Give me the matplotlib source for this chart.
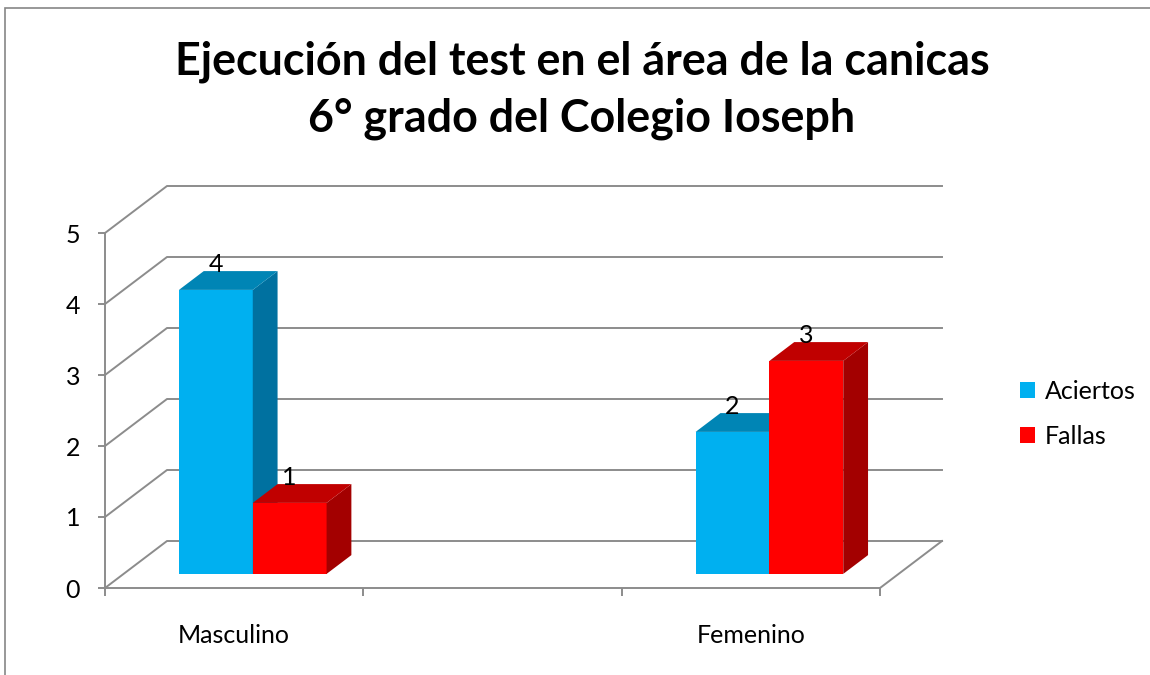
import numpy as np
import matplotlib
matplotlib.use("Agg")
import matplotlib.pyplot as plt
from matplotlib.patches import Polygon, Rectangle, Patch

plt.rcParams['font.family'] = ['Lato', 'DejaVu Sans']

# data
categories = ["Masculino", "", "Femenino"]
series = ["Aciertos", "Fallas"]
aciertos = [4, np.nan, 2]
fallas = [1, np.nan, 3]

title = "Ejecución del test en el área de la canicas\n6° grado del Colegio Ioseph"

# colours: front, top, side
colors = {
    "Aciertos": ("#00B0F0", "#0085B5", "#0071A0"),
    "Fallas": ("#FF0000", "#C00000", "#A30000"),
}
grid_col = "#8C8C8C"

# oblique depth of the plot box (in data units)
DX, DY = 0.24, 0.662
gap = 1.5                      # gap width, as fraction of a bar
w = 1.0 / (len(series) + gap)  # bar width
d0, d1 = 0.3, 0.7              # bar depth range within the box

fig = plt.figure(figsize=(11.5, 6.75), dpi=100)
ax = fig.add_axes([105 / 1150, 87 / 675, 775 / 1150, 355 / 675])
ax.set_xlim(0, len(categories))
ax.set_ylim(0, 5)

# outer chart frame
fig.patches.append(Rectangle((5 / 1150, -0.1), 1.2, 1 - 8 / 675 + 0.1,
                             transform=fig.transFigure, fill=False,
                             edgecolor="#868686", lw=1.2))

# walls and gridlines
n = len(categories)
for v in range(6):
    ax.plot([0, DX, n + DX], [v, v + DY, v + DY], color=grid_col, lw=1.4,
            clip_on=False, zorder=1)
ax.plot([n, n + DX], [0, DY], color=grid_col, lw=1.4, clip_on=False, zorder=1)

# bars
ox, oy = d0 * DX, d0 * DY
bx, by = (d1 - d0) * DX, (d1 - d0) * DY
for i, cat in enumerate(categories):
    c = i + 0.5
    for j, (name, vals) in enumerate(zip(series, [aciertos, fallas])):
        v = vals[i]
        if np.isnan(v):
            continue
        front, top, side = colors[name]
        x0 = c - w + j * w + ox
        x1 = x0 + w
        ax.add_patch(Polygon([(x0, oy), (x1, oy), (x1, v + oy), (x0, v + oy)],
                             closed=True, fc=front, ec="none", clip_on=False, zorder=3))
        ax.add_patch(Polygon([(x1, oy), (x1 + bx, oy + by), (x1 + bx, v + oy + by), (x1, v + oy)],
                             closed=True, fc=side, ec="none", clip_on=False, zorder=3))
        ax.add_patch(Polygon([(x0, v + oy), (x1, v + oy), (x1 + bx, v + oy + by), (x0 + bx, v + oy + by)],
                             closed=True, fc=top, ec="none", clip_on=False, zorder=3))
        ax.text((x0 + x1) / 2, v + oy + by - 0.01, "%d" % v, ha="center", va="baseline",
                fontsize=18, color="black", zorder=5)

# axes
for s in ["top", "right"]:
    ax.spines[s].set_visible(False)
for s in ["left", "bottom"]:
    ax.spines[s].set_color(grid_col)
    ax.spines[s].set_linewidth(1.4)
ax.set_yticks(range(6))
ax.tick_params(axis="y", length=5, width=1.4, color=grid_col, labelsize=18, pad=13)
ax.set_xticks(range(n + 1))
ax.set_xticklabels([])
ax.tick_params(axis="x", which="major", length=6, width=1.4, color=grid_col)
ax.set_xticks(np.arange(n) + 0.5, minor=True)
ax.set_xticklabels(categories, minor=True)
ax.tick_params(axis="x", which="minor", length=0, labelsize=18, pad=26)
ax.patch.set_visible(False)

handles = [Patch(fc=colors[s][0], ec="none") for s in series]
fig.legend(handles, series, loc="center left", bbox_to_anchor=(1020 / 1150, 1 - 414 / 675),
           frameon=False, fontsize=18, handlelength=0.6, handleheight=0.6,
           handletextpad=0.4, labelspacing=0.9, borderpad=0, borderaxespad=0)

fig.text(582 / 1150, 1 - 90 / 675, title, ha="center", va="center",
         fontsize=32.3, fontweight="bold", linespacing=1.42)

fig.savefig("out.png", dpi=100)
